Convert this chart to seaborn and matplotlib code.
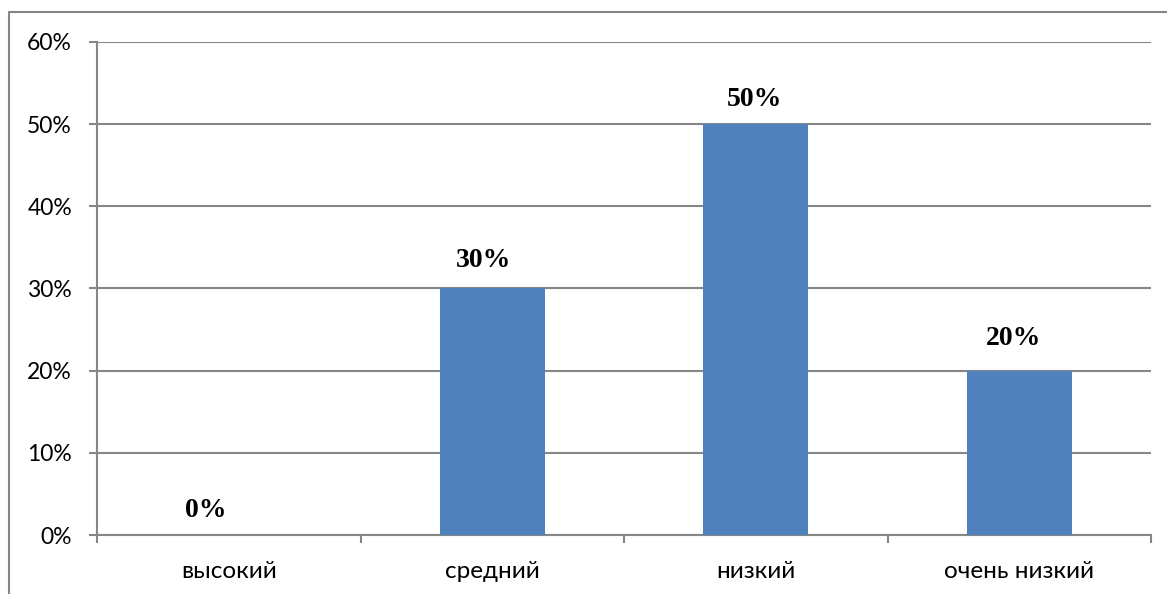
import matplotlib
matplotlib.use("Agg")
import matplotlib.pyplot as plt
from matplotlib.lines import Line2D
from matplotlib.ticker import FixedLocator, PercentFormatter
import seaborn as sns
import pandas as pd

categories = ["высокий", "средний", "низкий", "очень низкий"]
values = [0, 30, 50, 20]
y_ticks = [0, 10, 20, 30, 40, 50, 60]

# per-label nudges of the value annotations, in pixels (dx, gap above bar)
label_dx = [-23, -9, -1, -6]
label_dy = [18, 21, 18, 26]

df = pd.DataFrame({"level": categories, "share": values})

sns.set_theme(style="white")
plt.rcParams["font.family"] = ["Lato", "DejaVu Sans"]

fig = plt.figure(figsize=(11.67, 5.94), dpi=100)
ax = fig.add_axes([97 / 1167, 59 / 594, (1151 - 97) / 1167, (535 - 42) / 594])

grid_color = "#868686"
sns.barplot(data=df, x="level", y="share", color="#4F81BD", width=0.4,
            saturation=1, linewidth=0, ax=ax, zorder=3)

ax.set_xlim(-0.5, len(categories) - 0.5)
ax.set_ylim(0, 60)
ax.set_yticks(y_ticks)
ax.yaxis.set_major_formatter(PercentFormatter(decimals=0))
ax.yaxis.grid(True, color=grid_color, linewidth=1.5, zorder=0)
ax.set_axisbelow(True)
ax.set_xlabel("")
ax.set_ylabel("")

for side in ("top", "right"):
    ax.spines[side].set_visible(False)
for side in ("left", "bottom"):
    ax.spines[side].set_color(grid_color)
    ax.spines[side].set_linewidth(1.5)

ax.tick_params(axis="y", which="major", length=6, width=1.5, color=grid_color,
               direction="out", pad=12, labelsize=16.5, labelcolor="#000000", left=True)
ax.tick_params(axis="x", which="major", length=0, pad=19, labelsize=17.5,
               labelcolor="#000000")
ax.xaxis.set_minor_locator(FixedLocator([i - 0.5 for i in range(len(categories) + 1)]))
ax.tick_params(axis="x", which="minor", length=6, width=1.5, color=grid_color,
               direction="out", bottom=True)

for i, v in enumerate(values):
    ax.annotate(f"{v}%", xy=(i, v), xytext=(label_dx[i], label_dy[i]),
                textcoords="offset pixels", ha="center", va="baseline",
                fontsize=20, fontweight="bold", family="Liberation Serif",
                color="#000000")

# outer chart frame (top and left edges)
fig.add_artist(Line2D([9 / 1167, 1.0], [1 - 12 / 594, 1 - 12 / 594],
                      color=grid_color, linewidth=1.5, transform=fig.transFigure))
fig.add_artist(Line2D([9 / 1167, 9 / 1167], [0.0, 1 - 12 / 594],
                      color=grid_color, linewidth=1.5, transform=fig.transFigure))

fig.savefig("out.png", dpi=100)
